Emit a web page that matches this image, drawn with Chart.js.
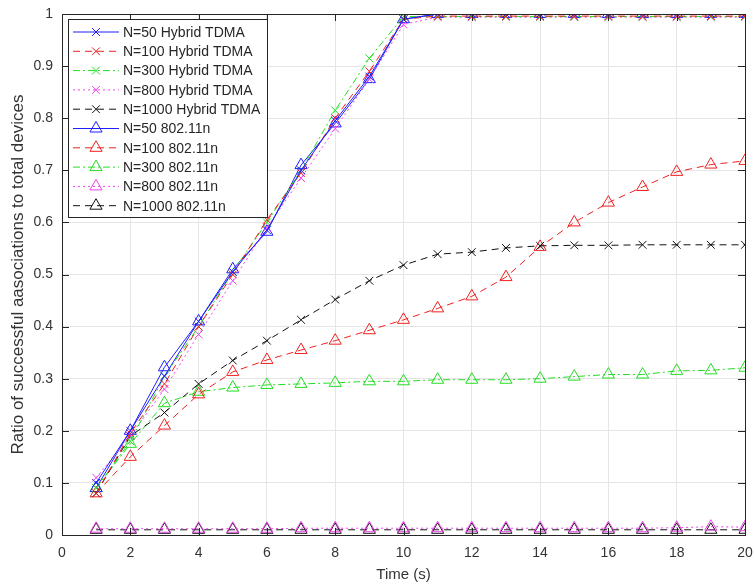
<!DOCTYPE html>
<html>
<head>
<meta charset="utf-8">
<script src="https://cdn.jsdelivr.net/npm/chart.js@4"></script>
<style>
  html, body { margin: 0; padding: 0; background: #fff; }
  canvas { display: block; }
</style>
</head>
<body>
<canvas id="assocChart" width="754" height="588"></canvas>
<script>
const timeSteps = [1, 2, 3, 4, 5, 6, 7, 8, 9, 10, 11, 12, 13, 14, 15, 16, 17, 18, 19, 20];

// Hybrid TDMA
const hyb50   = [0.10, 0.20, 0.305, 0.41, 0.505, 0.585, 0.70, 0.795, 0.88, 0.99, 1.0, 1.0, 1.0, 1.0, 1.0, 1.0, 1.0, 1.0, 1.0, 1.0];
const hyb100  = [0.08, 0.195, 0.29, 0.40, 0.50, 0.605, 0.695, 0.80, 0.89, 0.99, 0.996, 0.996, 0.996, 0.996, 0.996, 0.996, 0.996, 0.996, 0.996, 0.996];
const hyb300  = [0.09, 0.18, 0.305, 0.40, 0.505, 0.60, 0.70, 0.815, 0.915, 0.995, 0.995, 0.995, 0.995, 0.995, 0.995, 0.995, 0.995, 0.995, 0.995, 0.995];
const hyb800  = [0.11, 0.19, 0.28, 0.385, 0.488, 0.59, 0.685, 0.78, 0.875, 0.98, 0.994, 0.994, 0.994, 0.994, 0.994, 0.994, 0.994, 0.994, 0.994, 0.994];
const hyb1000 = [0.08, 0.19, 0.235, 0.29, 0.335, 0.373, 0.413, 0.452, 0.488, 0.518, 0.539, 0.543, 0.551, 0.555, 0.556, 0.556, 0.557, 0.557, 0.557, 0.557];

// 802.11n
const wifi50   = [0.09, 0.20, 0.322, 0.41, 0.51, 0.582, 0.71, 0.79, 0.875, 0.99, 1.0, 1.0, 1.0, 1.0, 1.0, 1.0, 1.0, 1.0, 1.0, 1.0];
const wifi100  = [0.08, 0.15, 0.21, 0.27, 0.313, 0.336, 0.355, 0.373, 0.393, 0.413, 0.435, 0.458, 0.495, 0.553, 0.60, 0.638, 0.668, 0.697, 0.711, 0.718];
const wifi300  = [0.09, 0.175, 0.253, 0.275, 0.283, 0.288, 0.29, 0.292, 0.295, 0.295, 0.298, 0.298, 0.298, 0.30, 0.304, 0.308, 0.308, 0.315, 0.316, 0.321];
const wifi800  = [0.012, 0.012, 0.012, 0.012, 0.012, 0.012, 0.013, 0.013, 0.013, 0.013, 0.013, 0.013, 0.013, 0.013, 0.013, 0.013, 0.013, 0.014, 0.016, 0.015];
const wifi1000 = [0.01, 0.01, 0.01, 0.01, 0.01, 0.01, 0.01, 0.01, 0.01, 0.01, 0.01, 0.01, 0.01, 0.01, 0.01, 0.01, 0.01, 0.01, 0.01, 0.01];

const seriesLabels = [
  'N=50 Hybrid TDMA', 'N=100 Hybrid TDMA', 'N=300 Hybrid TDMA', 'N=800 Hybrid TDMA', 'N=1000 Hybrid TDMA',
  'N=50 802.11n', 'N=100 802.11n', 'N=300 802.11n', 'N=800 802.11n', 'N=1000 802.11n'
];
const seriesValues = [hyb50, hyb100, hyb300, hyb800, hyb1000, wifi50, wifi100, wifi300, wifi800, wifi1000];

const xTicks = [0, 2, 4, 6, 8, 10, 12, 14, 16, 18, 20];
const yTicks = [0, 0.1, 0.2, 0.3, 0.4, 0.5, 0.6, 0.7, 0.8, 0.9, 1];

const colors = ['#1f1fff', '#f02020', '#22dd22', '#ee44ee', '#111111'];
const dashes = [[], [7, 5], [7, 3, 2, 3], [2, 3], [7, 5]];

const FONT = '"Liberation Sans", Arial, sans-serif';
const AXIS_COLOR = '#262626';

const datasets = seriesValues.map((vals, i) => {
  const k = i % 5;
  const isTri = i >= 5;
  return {
    label: seriesLabels[i],
    data: timeSteps.map((t, j) => ({ x: t, y: vals[j] })),
    borderColor: colors[k],
    backgroundColor: 'rgba(0,0,0,0)',
    borderWidth: 1,
    borderDash: dashes[k],
    pointStyle: isTri ? 'triangle' : 'crossRot',
    pointRadius: isTri ? 7 : 5.5,
    pointBorderWidth: 1,
    pointBorderColor: colors[k],
    pointBackgroundColor: 'rgba(0,0,0,0)',
    tension: 0,
    fill: false
  };
});

// draw a single marker the same way the series does
function drawMarker(ctx, style, x, y, r, color) {
  ctx.save();
  ctx.strokeStyle = color;
  ctx.lineWidth = 1;
  ctx.setLineDash([]);
  ctx.beginPath();
  if (style === 'triangle') {
    ctx.moveTo(x, y - r);
    ctx.lineTo(x + r * 0.866, y + r * 0.5);
    ctx.lineTo(x - r * 0.866, y + r * 0.5);
    ctx.closePath();
  } else {
    const d = r * 0.707;
    ctx.moveTo(x - d, y - d); ctx.lineTo(x + d, y + d);
    ctx.moveTo(x + d, y - d); ctx.lineTo(x - d, y + d);
  }
  ctx.stroke();
  ctx.restore();
}

// axes box, inward ticks and the legend
const matlabFrame = {
  id: 'matlabFrame',
  afterDatasetsDraw(chart) {
    const { ctx, chartArea: a, scales } = chart;
    ctx.save();
    ctx.strokeStyle = AXIS_COLOR;
    ctx.lineWidth = 1;
    ctx.setLineDash([]);
    ctx.beginPath();
    const tl = 7;
    xTicks.forEach(v => {
      const px = Math.round(scales.x.getPixelForValue(v)) + 0.5;
      ctx.moveTo(px, a.bottom); ctx.lineTo(px, a.bottom - tl);
      ctx.moveTo(px, a.top); ctx.lineTo(px, a.top + tl);
    });
    yTicks.forEach(v => {
      const py = Math.round(scales.y.getPixelForValue(v)) + 0.5;
      ctx.moveTo(a.left, py); ctx.lineTo(a.left + tl, py);
      ctx.moveTo(a.right, py); ctx.lineTo(a.right - tl, py);
    });
    ctx.stroke();
    ctx.strokeRect(Math.round(a.left) + 0.5, Math.round(a.top) + 0.5,
      Math.round(a.right - a.left), Math.round(a.bottom - a.top));

    // legend
    const lx = 68, ly = 19, lw = 199, lh = 198, step = 19.3;
    ctx.fillStyle = '#ffffff';
    ctx.fillRect(lx, ly, lw, lh);
    ctx.strokeStyle = AXIS_COLOR;
    ctx.strokeRect(lx + 0.5, ly + 0.5, lw, lh);
    ctx.font = '14px ' + FONT;
    ctx.textBaseline = 'middle';
    ctx.textAlign = 'left';
    chart.data.datasets.forEach((ds, i) => {
      const y = ly + 13 + i * step;
      ctx.save();
      ctx.strokeStyle = ds.borderColor;
      ctx.lineWidth = 1;
      ctx.setLineDash(ds.borderDash);
      ctx.beginPath();
      ctx.moveTo(73, y); ctx.lineTo(119, y);
      ctx.stroke();
      ctx.restore();
      drawMarker(ctx, ds.pointStyle, 96, y, ds.pointRadius, ds.borderColor);
      ctx.fillStyle = AXIS_COLOR;
      ctx.fillText(ds.label, 123, y + 1);
    });
    ctx.restore();
  }
};

const config = {
  type: 'line',
  data: { datasets: datasets },
  options: {
    responsive: false,
    animation: false,
    devicePixelRatio: 1,
    layout: { padding: { left: 0, right: 9, top: 14, bottom: 0 } },
    plugins: {
      legend: { display: false },
      tooltip: { enabled: false }
    },
    scales: {
      x: {
        type: 'linear',
        min: 0,
        max: 20,
        afterFit(scale) {
          scale.height = 53;
          scale.paddingLeft = 0;
          scale.paddingRight = 0;
        },
        afterBuildTicks(scale) { scale.ticks = xTicks.map(v => ({ value: v })); },
        grid: { color: '#e5e5e5', drawTicks: false },
        border: { display: false },
        ticks: { color: '#333', font: { family: FONT, size: 14 }, padding: 10, maxRotation: 0 },
        title: { display: true, text: 'Time (s)', color: '#333', font: { family: FONT, size: 15 }, padding: { top: 3 } }
      },
      y: {
        type: 'linear',
        min: 0,
        max: 1,
        afterFit(scale) {
          scale.width = 62;
          scale.paddingTop = 0;
          scale.paddingBottom = 0;
        },
        afterBuildTicks(scale) { scale.ticks = yTicks.map(v => ({ value: v })); },
        grid: { color: '#e5e5e5', drawTicks: false },
        border: { display: false },
        ticks: {
          color: '#333', font: { family: FONT, size: 14 }, padding: 9,
          callback: v => String(+v.toFixed(1))
        },
        title: {
          display: true, text: 'Ratio of successful aasociations to total devices',
          color: '#333', font: { family: FONT, size: 17 }, padding: { top: 8, bottom: 0 }
        }
      }
    }
  },
  plugins: [matlabFrame]
};

const assocChart = new Chart(document.getElementById('assocChart').getContext('2d'), config);
</script>
</body>
</html>
